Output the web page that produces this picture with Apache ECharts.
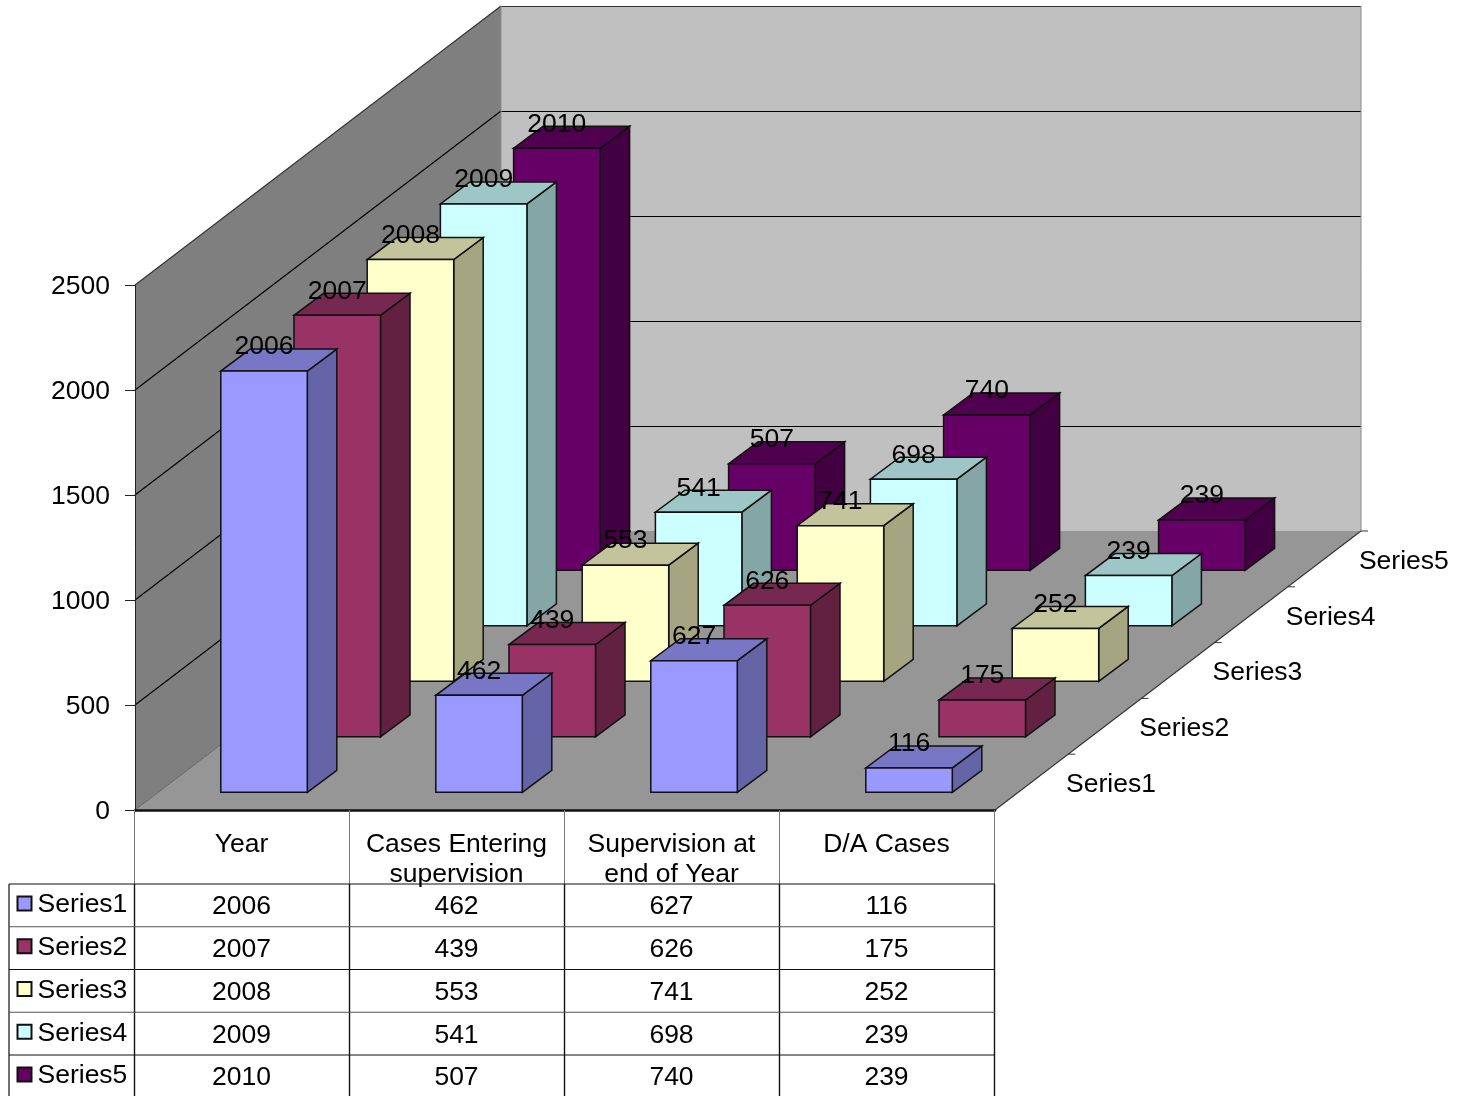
<!DOCTYPE html>
<html>
<head>
<meta charset="utf-8">
<style>html,body{margin:0;padding:0;background:#fff}#c{width:1457px;height:1096px}</style>
<script src="https://cdn.jsdelivr.net/npm/echarts@6/dist/echarts.min.js"></script>
</head>
<body>
<div id="c"></div>
<script>
// ---- data ----
const categories = ['Year', 'Cases Entering\nsupervision', 'Supervision at\nend of Year', 'D/A Cases'];
const seriesNames = ['Series1', 'Series2', 'Series3', 'Series4', 'Series5'];
const series1 = [2006, 462, 627, 116];
const series2 = [2007, 439, 626, 175];
const series3 = [2008, 553, 741, 252];
const series4 = [2009, 541, 698, 239];
const series5 = [2010, 507, 740, 239];
const allSeries = [series1, series2, series3, series4, series5];
const yTicks = [0, 500, 1000, 1500, 2000, 2500];

// ---- style ----
const frontColors = ['#9999FF', '#993366', '#FFFFCC', '#CCFFFF', '#660066'];
const topColors = ['#7777C6', '#772850', '#C3C39C', '#9EC6C6', '#4F004F'];
const sideColors = ['#6464A6', '#632142', '#A5A581', '#84A6A6', '#420042'];
const FONT = '"Liberation Sans", Arial, sans-serif';
const FS = 26.5;
const SLOT_DX = 73.2, SLOT_DY = -55.8;   // depth of one wall slot
const BAR_SLOT_DY = -55.5;
const BAR_W = 86.5, BAR_DX = 29.5, BAR_DY = -22;
const GAP_DX = (SLOT_DX - BAR_DX) / 2 - 0.3, GAP_DY = (SLOT_DY - BAR_DY) / 2 - 0.8;
const N = seriesNames.length;
const WALL_DX = SLOT_DX * N, WALL_DY = SLOT_DY * N;
const HEADER_H = 74, ROW_H = 42.75, TABLE_LEFT = 9;

const txt = (text, x, y, align, size) => ({
  type: 'text',
  style: { text, x, y: y + 2, fill: '#000', fontSize: size || FS, fontFamily: FONT,
    align: align || 'center', verticalAlign: 'middle', lineHeight: 30 }
});
const poly = (points, fill, stroke, lw) => ({
  type: 'polygon', shape: { points },
  style: { fill, stroke: stroke || null, lineWidth: lw || 0 }
});
const line = (x1, y1, x2, y2, stroke, lw) => ({
  type: 'line', shape: { x1, y1, x2, y2 }, style: { stroke, lineWidth: lw || 1 }
});

function frame(api) {
  const band = api.size([1, 0])[0];
  const left = api.coord([0, 0])[0] - band / 2;
  const base = api.coord([0, 0])[1];
  return { band, left, base, right: left + band * categories.length };
}

function renderWalls(params, api) {
  const f = frame(api);
  const top = api.coord([0, yTicks[yTicks.length - 1]])[1];
  const ch = [
    poly([[f.left, f.base], [f.left + WALL_DX, f.base + WALL_DY], [f.left + WALL_DX, top + WALL_DY], [f.left, top]], '#7F7F7F'),
    poly([[f.left + WALL_DX, f.base + WALL_DY], [f.right + WALL_DX, f.base + WALL_DY], [f.right + WALL_DX, top + WALL_DY], [f.left + WALL_DX, top + WALL_DY]], '#C0C0C0'),
    poly([[f.left, f.base], [f.right, f.base], [f.right + WALL_DX, f.base + WALL_DY], [f.left + WALL_DX, f.base + WALL_DY]], '#969696')
  ];
  yTicks.forEach(v => {
    const y = api.coord([0, v])[1];
    const c = v === 0 ? '#555' : (v === 2500 ? '#333' : '#000');
    ch.push(line(f.left, y, f.left + WALL_DX, y + WALL_DY, c, v === 0 ? 0.8 : 1.1));
    if (v > 0) ch.push(line(f.left + WALL_DX, y + WALL_DY + 0.5, f.right + WALL_DX, y + WALL_DY + 0.5, c, 1.2));
  });
  ch.push(line(f.left + WALL_DX, f.base + WALL_DY, f.left + WALL_DX, top + WALL_DY, '#8a8a8a', 1));
  ch.push(line(f.right + WALL_DX, f.base + WALL_DY, f.right + WALL_DX, top + WALL_DY, '#8a8a8a', 1));
  ch.push(line(f.right, f.base, f.right + WALL_DX, f.base + WALL_DY, '#333', 1.1));
  // depth axis ticks and labels
  seriesNames.forEach((name, i) => {
    const tx = f.right + SLOT_DX * (i + 1), ty = f.base + SLOT_DY * (i + 1);
    ch.push(line(tx, ty, tx + 7, ty, '#333', 1));
    const mx = f.right + SLOT_DX * (i + 0.5), my = f.base + SLOT_DY * (i + 0.5);
    ch.push(txt(name, mx + 34.5, my + 0.5, 'left'));
  });
  return { type: 'group', children: ch };
}

function barOrigin(api, cat, si) {
  const f = frame(api);
  const cx = api.coord([cat, 0])[0];
  return {
    x: cx - BAR_W / 2 + GAP_DX + SLOT_DX * si,
    y: f.base + GAP_DY + BAR_SLOT_DY * si
  };
}

function makeBarRender(si) {
  return function (params, api) {
    const cat = api.value(0), v = api.value(1);
    const o = barOrigin(api, cat, si);
    const h = api.coord([0, 0])[1] - api.coord([0, v])[1];
    const x0 = o.x, x1 = o.x + BAR_W, yb = o.y, yt = o.y - h;
    const s = '#111', lw = 1.5;
    return { type: 'group', children: [
      poly([[x1, yb], [x1 + BAR_DX, yb + BAR_DY], [x1 + BAR_DX, yt + BAR_DY], [x1, yt]], sideColors[si], s, lw),
      poly([[x0, yt], [x1, yt], [x1 + BAR_DX, yt + BAR_DY], [x0 + BAR_DX, yt + BAR_DY]], topColors[si], s, lw),
      poly([[x0, yb], [x1, yb], [x1, yt], [x0, yt]], frontColors[si], s, lw)
    ] };
  };
}

function renderLabel(params, api) {
  const cat = api.value(0), v = api.value(1), si = api.value(2);
  const o = barOrigin(api, cat, si);
  const h = api.coord([0, 0])[1] - api.coord([0, v])[1];
  return txt(String(v), o.x + BAR_W / 2, o.y - h - 26);
}

function renderTable(params, api) {
  const f = frame(api);
  const ch = [];
  const y0 = f.base, y1 = y0 + HEADER_H;
  const rowTop = i => y1 + ROW_H * i;
  const bottom = rowTop(N);
  for (let c = 0; c <= categories.length; c++) {
    const x = f.left + f.band * c - 0.5;
    ch.push(line(x, y0, x, y1, '#777', 1));
    ch.push(line(x, y1, x, bottom, '#111', 1.4));
  }
  ch.push(line(TABLE_LEFT, y1, TABLE_LEFT, bottom, '#333', 1.4));
  for (let r = 0; r <= N; r++) ch.push(line(TABLE_LEFT, rowTop(r), f.right, rowTop(r), r % 2 ? '#555' : '#111', 1.1));
  categories.forEach((c, j) => {
    const cx = f.left + f.band * (j + 0.5) - 1;
    c.split('\n').forEach((p, k) => ch.push(txt(p, cx, y0 + 33 + k * 30)));
  });
  seriesNames.forEach((name, i) => {
    const t = rowTop(i);
    ch.push({ type: 'rect', shape: { x: 17.5, y: t + 12.5, width: 14, height: 14 },
      style: { fill: frontColors[i], stroke: '#111', lineWidth: 2 } });
    ch.push(txt(name, 37.5, t + 19, 'left'));
    allSeries[i].forEach((v, j) => ch.push(txt(String(v), f.left + f.band * (j + 0.5) - 1, t + 21)));
  });
  return { type: 'group', children: ch };
}

const seriesList = [
  { type: 'custom', name: 'walls', z: 2, silent: true, clip: false, data: [[0, 0]], renderItem: renderWalls }
];
for (let i = N - 1; i >= 0; i--) {
  seriesList.push({
    type: 'custom', name: seriesNames[i], z: 3 + (N - i), silent: true, clip: false,
    encode: { x: 0, y: 1 },
    data: allSeries[i].map((v, j) => [j, v]),
    renderItem: makeBarRender(i)
  });
}
const labelRows = [];
allSeries.forEach((s, i) => s.forEach((v, j) => labelRows.push([j, v, i])));
seriesList.push({ type: 'custom', name: 'labels', z: 20, silent: true, clip: false,
  encode: { x: 0, y: 1 }, data: labelRows, renderItem: renderLabel });
seriesList.push({ type: 'custom', name: 'table', z: 21, silent: true, clip: false,
  data: [[0, 0]], renderItem: renderTable });

const chart = echarts.init(document.getElementById('c'), null, { renderer: 'canvas' });
chart.setOption({
  animation: false,
  backgroundColor: '#fff',
  grid: { left: 135, top: 285, width: 860, height: 525, containLabel: false },
  xAxis: {
    type: 'category', data: categories, z: 10,
    axisTick: { show: false }, axisLabel: { show: false },
    axisLine: { show: true, onZero: false, lineStyle: { color: '#111', width: 2.5 } }
  },
  yAxis: {
    type: 'value', min: 0, max: 2500, interval: 500, z: 10,
    axisLine: { show: true, lineStyle: { color: '#222', width: 1 } },
    axisTick: { show: true, length: 10, lineStyle: { color: '#222' } },
    axisLabel: { color: '#000', fontSize: FS, fontFamily: FONT, margin: 25,
      formatter: v => String(v), verticalAlign: 'top', lineHeight: 4 },
    splitLine: { show: false }
  },
  series: seriesList
});
</script>
</body>
</html>
